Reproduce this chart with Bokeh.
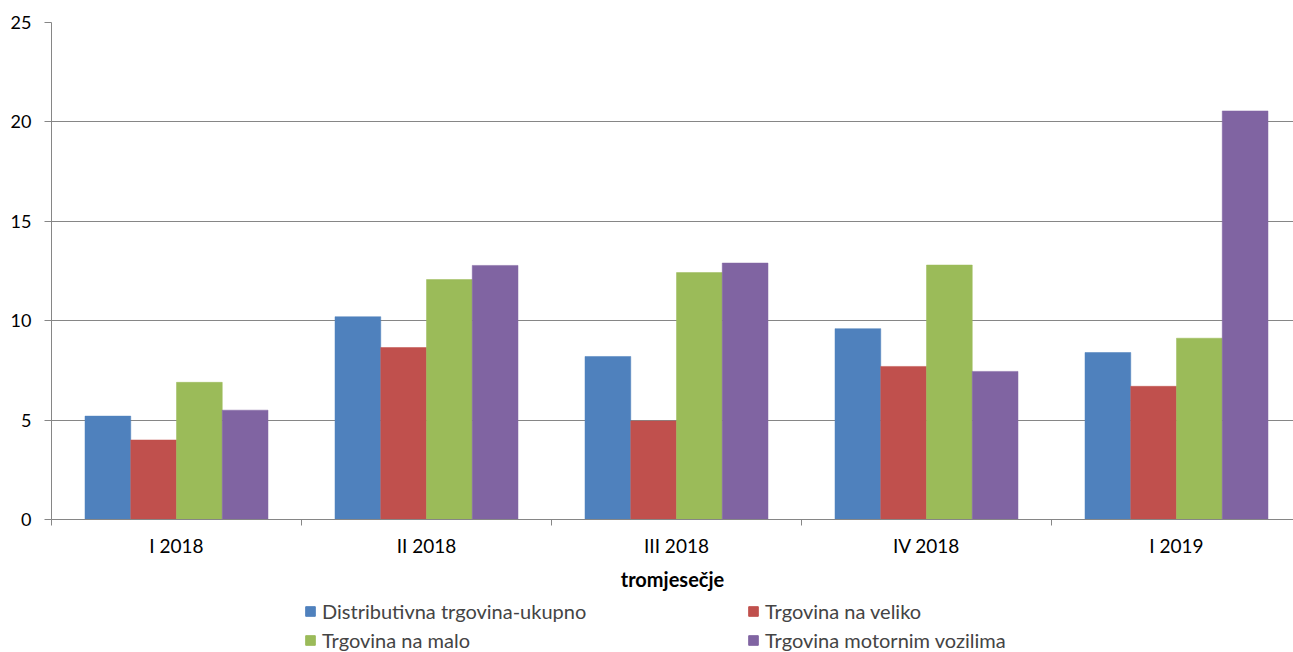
from bokeh.plotting import figure
from bokeh.layouts import column
from bokeh.models import Range1d, FixedTicker, Legend, LegendItem
from bokeh.embed import file_html
from bokeh.resources import INLINE

categories = ["I 2018", "II 2018", "III 2018", "IV 2018", "I 2019"]
series_names = ["Distributivna trgovina-ukupno", "Trgovina na veliko",
                "Trgovina na malo", "Trgovina motornim vozilima"]
distributivna = [5.2, 10.2, 8.2, 9.6, 8.4]
veliko = [4.0, 8.65, 4.95, 7.7, 6.7]
malo = [6.9, 12.07, 12.42, 12.8, 9.12]
motorna = [5.5, 12.78, 12.9, 7.45, 20.55]
colors = ["#4F81BD", "#C0504D", "#9BBB59", "#8064A2"]
series = [distributivna, veliko, malo, motorna]

FONT = "Lato"
GRID = "#868686"

p = figure(width=1293, height=596, output_backend="svg", toolbar_location=None,
           x_range=Range1d(0, 4.968), y_range=Range1d(0, 25),
           min_border_left=51, min_border_top=22, min_border_right=0,
           min_border_bottom=77)
p.outline_line_color = None
p.xgrid.grid_line_color = None
p.ygrid.grid_line_color = GRID
p.ygrid.ticker = FixedTicker(ticks=[0, 5, 10, 15, 20, 25])

bw = 0.183
offsets = [-1.5 * bw, -0.5 * bw, 0.5 * bw, 1.5 * bw]
for vals, off, col in zip(series, offsets, colors):
    xs = [i + 0.5 + off for i in range(len(categories))]
    p.vbar(x=xs, top=vals, width=bw, bottom=0, fill_color=col,
           line_color=col, line_width=0.5)

# x axis
p.xaxis.ticker = FixedTicker(ticks=[i + 0.5 for i in range(len(categories))],
                             minor_ticks=list(range(len(categories) + 1)))
p.xaxis.major_label_overrides = {i + 0.5: c for i, c in enumerate(categories)}
p.xaxis.major_tick_line_color = None
p.xaxis.major_tick_out = 6
p.xaxis.minor_tick_line_color = GRID
p.xaxis.minor_tick_out = 6
p.xaxis.minor_tick_in = 0
p.xaxis.axis_line_color = GRID
p.xaxis.major_label_text_font = FONT
p.xaxis.major_label_text_font_size = "19px"
p.xaxis.major_label_text_color = "#000000"
p.xaxis.major_label_standoff = 8
p.xaxis.axis_label = "tromjesečje"
p.xaxis.axis_label_text_font = FONT
p.xaxis.axis_label_text_font_style = "bold"
p.xaxis.axis_label_text_font_size = "20px"
p.xaxis.axis_label_text_color = "#000000"
p.xaxis.axis_label_standoff = 7

# y axis
p.yaxis.ticker = FixedTicker(ticks=[0, 5, 10, 15, 20, 25])
p.yaxis.axis_line_color = GRID
p.yaxis.major_tick_line_color = GRID
p.yaxis.major_tick_out = 7
p.yaxis.major_tick_in = 0
p.yaxis.minor_tick_line_color = None
p.yaxis.major_label_text_font = FONT
p.yaxis.major_label_text_font_size = "18px"
p.yaxis.major_label_text_color = "#000000"
p.yaxis.major_label_standoff = 13

# legend panel (series drawn off-range so only the legend shows)
lg = figure(width=1293, height=56, output_backend="svg", toolbar_location=None,
            x_range=Range1d(0, 1), y_range=Range1d(100, 101),
            min_border=0)
lg.outline_line_color = None
lg.axis.visible = False
lg.grid.visible = False
lr = []
for vals, off, col in zip(series, offsets, colors):
    xs = [i + 0.5 + off for i in range(len(categories))]
    lr.append(lg.vbar(x=xs, top=vals, width=bw, bottom=0, fill_color=col,
                      line_color=col))
order = [0, 2, 1, 3]
items = [LegendItem(label=series_names[k], renderers=[lr[k]]) for k in order]
legend = Legend(items=items, ncols=2, location=(253, 0),
                border_line_color=None, background_fill_alpha=0,
                glyph_width=12, glyph_height=12, label_width=420,
                label_height=22, spacing=5, padding=0, margin=0,
                label_text_font=FONT, label_text_font_size="20px",
                label_standoff=6)
lg.add_layout(legend, "center")

open("out.html", "w").write(file_html(column(p, lg, spacing=0), INLINE))
